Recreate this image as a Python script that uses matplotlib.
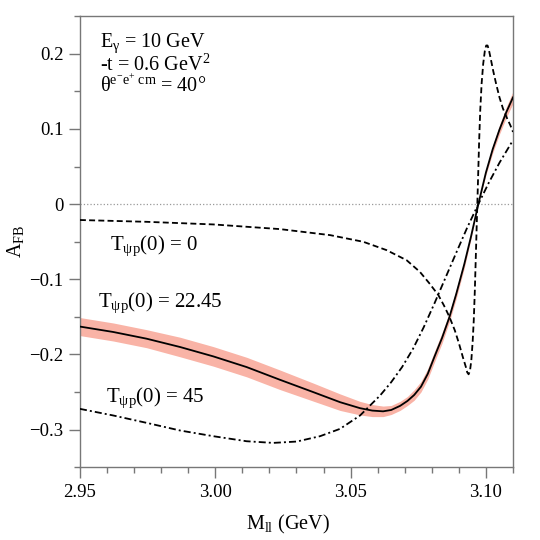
import numpy as np
import matplotlib
matplotlib.use('Agg')
import matplotlib.pyplot as plt
from matplotlib.ticker import MultipleLocator

plt.rcParams['font.family'] = 'Liberation Serif'
plt.rcParams['mathtext.fontset'] = 'custom'
plt.rcParams['mathtext.rm'] = 'Liberation Serif'
plt.rcParams['mathtext.it'] = 'Liberation Serif:italic'
plt.rcParams['mathtext.bf'] = 'Liberation Serif:bold'


# T_psi p(0) = 0  (dashed)
m_t0 = [2.950, 2.9746, 2.9993, 3.0239, 3.0424, 3.0547, 3.0633, 3.0707, 3.0756,
        3.0790, 3.0824, 3.0845, 3.0865, 3.0885, 3.0900, 3.0915, 3.0926, 3.0931,
        3.0936, 3.0941, 3.0946, 3.0951, 3.0955, 3.0959, 3.0963, 3.0967, 3.0971,
        3.0975, 3.0979, 3.0984, 3.0990, 3.0996, 3.1001, 3.1006, 3.1011, 3.1018,
        3.1027, 3.1037, 3.1050, 3.1063, 3.1077, 3.1090, 3.1100]
afb_t0 = [-0.0212, -0.0236, -0.0271, -0.0333, -0.0413, -0.0502, -0.0613, -0.0747,
          -0.0902, -0.1050, -0.1210, -0.1350, -0.1500, -0.1680, -0.1850, -0.2040,
          -0.2170, -0.2240, -0.2265, -0.2220, -0.2080, -0.1830, -0.1550, -0.1150,
          -0.0650, -0.0150, 0.0350, 0.0850, 0.1250, 0.1600, 0.1870, 0.2040,
          0.2110, 0.2110, 0.2050, 0.1930, 0.1770, 0.1610, 0.1420, 0.1270,
          0.1150, 0.1050, 0.0960]

# T_psi p(0) = 22.45  (solid, with band)
m_t22 = [2.950, 2.9623, 2.9746, 2.9870, 2.9993, 3.0116, 3.0239, 3.0362, 3.0461,
         3.0535, 3.0580, 3.0620, 3.0650, 3.0683, 3.0710, 3.0735, 3.0760, 3.0785,
         3.0810, 3.0838, 3.0865, 3.0890, 3.0920, 3.0945, 3.0972, 3.1000, 3.1025,
         3.1050, 3.1075, 3.1100]
afb_t22 = [-0.1630, -0.1702, -0.1791, -0.1902, -0.2027, -0.2169, -0.2338, -0.2502,
           -0.2636, -0.2716, -0.2748, -0.2758, -0.2740, -0.2685, -0.2620, -0.2540,
           -0.2430, -0.2260, -0.2030, -0.1780, -0.1505, -0.1200, -0.0800, -0.0430,
           0.0000, 0.0420, 0.0730, 0.0990, 0.1220, 0.1420]
err_t22 = [0.012, 0.012, 0.012, 0.013, 0.013, 0.013, 0.013, 0.012, 0.011,
           0.009, 0.008, 0.007, 0.006, 0.006, 0.006, 0.007, 0.007, 0.007,
           0.007, 0.007, 0.006, 0.006, 0.005, 0.003, 0.000, 0.003, 0.005,
           0.006, 0.007, 0.008]

# T_psi p(0) = 45  (dash-dot)
m_t45 = [2.950, 2.9623, 2.9746, 2.9870, 2.9993, 3.0116, 3.0214, 3.0301, 3.0387,
         3.0461, 3.0535, 3.0609, 3.0650, 3.0690, 3.0730, 3.0770, 3.0810, 3.0850,
         3.0890, 3.0930, 3.0972, 3.1010, 3.1050, 3.1100]
afb_t45 = [-0.2725, -0.2813, -0.2911, -0.3013, -0.3089, -0.3156, -0.3178, -0.3160,
           -0.3089, -0.2991, -0.2813, -0.2547, -0.2370, -0.2170, -0.1930, -0.1640,
           -0.1320, -0.0985, -0.0650, -0.0320, 0.0000, 0.0280, 0.0550, 0.0850]

xticks = [2.95, 3.00, 3.05, 3.10]
xticklabels = ['2.95', '3.00', '3.05', '3.10']
yticks = [-0.3, -0.2, -0.1, 0.0, 0.1, 0.2]
yticklabels = ['\u22120.3', '\u22120.2', '\u22120.1', '0', '0.1', '0.2']


fig = plt.figure(figsize=(5.4, 5.4), dpi=100)
ax = fig.add_axes([0.148, 0.135, 0.802, 0.835])

lo = np.array(afb_t22) - np.array(err_t22)
hi = np.array(afb_t22) + np.array(err_t22)
ax.fill_between(m_t22, lo, hi, color='#f9b3a6', lw=0, zorder=1)

ax.axhline(0, color='#999999', ls=':', lw=0.9, zorder=0)
ax.plot(m_t0, afb_t0, color='black', lw=1.3, dashes=(3.3, 1.8), zorder=3)
ax.plot(m_t22, afb_t22, color='black', lw=1.3, zorder=4)
ax.plot(m_t45, afb_t45, color='black', lw=1.3, dashes=(3.9, 1.7, 1.1, 1.7), zorder=3)

ax.set_xlim(2.95, 3.11)
ax.set_ylim(-0.35, 0.25)
ax.set_xticks(xticks)
ax.set_xticklabels(xticklabels)
ax.set_yticks(yticks)
ax.set_yticklabels(yticklabels)
ax.xaxis.set_minor_locator(MultipleLocator(0.01))
ax.yaxis.set_minor_locator(MultipleLocator(0.05))
ax.tick_params(which='both', direction='out', color='#777777', width=1.0,
               labelsize=13.5, top=False, right=False)
ax.tick_params(which='major', length=8, pad=4)
ax.tick_params(which='minor', length=4.5)
for s in ax.spines.values():
    s.set_color('#777777')
    s.set_linewidth(1.0)

ax.set_xlabel(r'$\mathrm{M_{ll}}$ (GeV)', fontsize=14.5)
ax.xaxis.set_label_coords(0.48, -0.101)
ax.set_ylabel(r'$\mathrm{A_{FB}}$', fontsize=14.5)
ax.yaxis.set_label_coords(-0.125, 0.5)

ax.text(0.046, 0.931, r'$\mathrm{E_{γ}}$ = 10 GeV', transform=ax.transAxes,
        fontsize=14.5, va='baseline')
ax.text(0.046, 0.880, r'-t = 0.6 GeV$^2$', transform=ax.transAxes,
        fontsize=14.5, va='baseline')
ax.text(0.046, 0.832, r'$\mathrm{θ^{e^{-}e^{+}\ cm}}$ = 40°', transform=ax.transAxes,
        fontsize=14.5, va='baseline')

ax.text(2.9611, -0.0613, r'$\mathrm{T_{ψp}(0)}$ = 0', fontsize=15, va='baseline')
ax.text(2.9568, -0.137, r'$\mathrm{T_{ψp}(0)}$ = 22.45', fontsize=15, va='baseline')
ax.text(2.9596, -0.2636, r'$\mathrm{T_{ψp}(0)}$ = 45', fontsize=15, va='baseline')

plt.savefig('out.png', dpi=100)
plt.close()
